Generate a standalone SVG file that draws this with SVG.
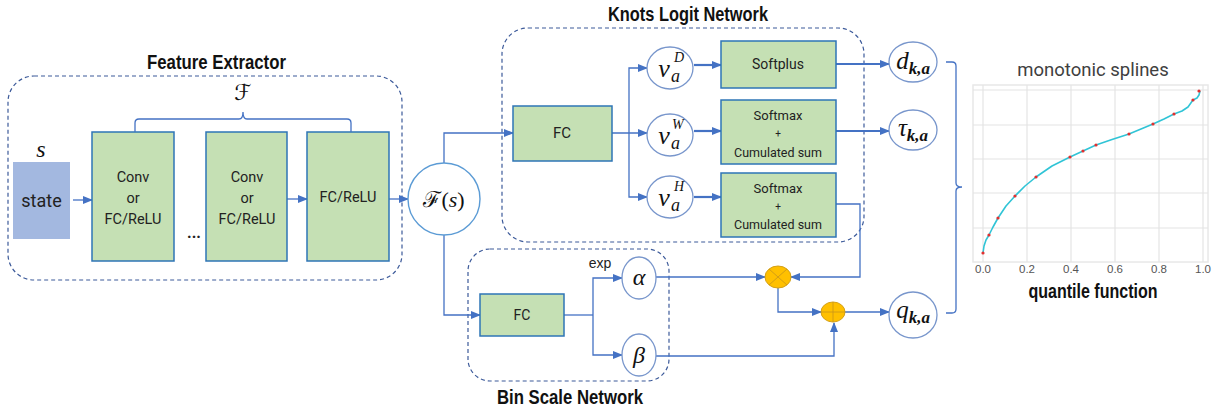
<svg xmlns="http://www.w3.org/2000/svg" width="1218" height="410" viewBox="0 0 1218 410">
<defs>
<marker id="ah" markerUnits="userSpaceOnUse" markerWidth="10" markerHeight="10" viewBox="0 0 10 10" refX="9" refY="5" orient="auto">
<path d="M0,1 L10,5 L0,9 z" fill="#4472c4"/>
</marker>
<style>
.dash{fill:none;stroke:#3c5a9a;stroke-width:1.2;stroke-dasharray:4 3}
.box{fill:#c5e0b4;stroke:#2e75b6;stroke-width:1.5}
.circ{fill:#fff;stroke:#7896cc;stroke-width:1.3}
.ln{fill:none;stroke:#4472c4;stroke-width:1.3}
.lnb{fill:none;stroke:#4472c4;stroke-width:2.2}
.title{font-family:"Liberation Sans",Arial,sans-serif;font-weight:bold;font-size:20px;fill:#111}
.lbl{font-family:Roboto,"Liberation Sans",sans-serif;fill:#222;text-anchor:middle}
.math{font-family:"Liberation Serif","DejaVu Serif",serif;font-style:italic;fill:#111}
.tick{font-family:"Liberation Sans",Arial,sans-serif;font-size:11.5px;fill:#555;text-anchor:middle}
.grid{stroke:#e4e4e4;stroke-width:1.2}
.op{fill:#ffc000;stroke:#d4a017;stroke-width:1}
.opl{stroke:#c8961a;stroke-width:0.8}
</style>
</defs>

<!-- containers -->
<g id="feature-extractor">
<rect class="dash" x="8" y="76" width="394" height="204" rx="26"/>
<text class="title" x="216.5" y="69" text-anchor="middle" textLength="139" lengthAdjust="spacingAndGlyphs">Feature Extractor</text>
</g>
<g id="knots-logit-network">
<rect class="dash" x="502" y="28" width="362" height="214" rx="26"/>
<text class="title" x="688" y="21" text-anchor="middle" textLength="160" lengthAdjust="spacingAndGlyphs">Knots Logit Network</text>
</g>
<g id="bin-scale-network">
<rect class="dash" x="468" y="249" width="201" height="132" rx="22"/>
<text class="title" x="570" y="404" text-anchor="middle" textLength="146" lengthAdjust="spacingAndGlyphs">Bin Scale Network</text>
</g>

<!-- connectors -->
<g id="connectors">
<line class="ln" x1="73" y1="200" x2="92" y2="200" marker-end="url(#ah)"/>
<line class="ln" x1="287" y1="199" x2="307" y2="199" marker-end="url(#ah)"/>
<line class="ln" x1="389" y1="199" x2="408" y2="199" marker-end="url(#ah)"/>
<path class="ln" d="M444,163 V133 H513" marker-end="url(#ah)"/>
<path class="ln" d="M444,235 V315 H480" marker-end="url(#ah)"/>
<line class="ln" x1="612" y1="133" x2="647" y2="133" marker-end="url(#ah)"/>
<path class="ln" d="M629,133 V68 H647" marker-end="url(#ah)"/>
<path class="ln" d="M629,133 V197 H647" marker-end="url(#ah)"/>
<line class="lnb" x1="694" y1="65" x2="721" y2="65" marker-end="url(#ah)"/>
<line class="lnb" x1="694" y1="131" x2="721" y2="131" marker-end="url(#ah)"/>
<line class="lnb" x1="694" y1="197" x2="721" y2="197" marker-end="url(#ah)"/>
<line class="lnb" x1="836" y1="64" x2="889" y2="64" marker-end="url(#ah)"/>
<line class="lnb" x1="836" y1="131" x2="889" y2="131" marker-end="url(#ah)"/>
<path class="ln" d="M836,204 H860 V277 H791" marker-end="url(#ah)"/>
<path class="ln" d="M564,315 H593" />
<path class="ln" d="M593,315 V278 H622" marker-end="url(#ah)"/>
<path class="ln" d="M593,315 V355 H622" marker-end="url(#ah)"/>
<line class="ln" x1="656" y1="277" x2="765" y2="277" marker-end="url(#ah)"/>
<path class="ln" d="M778,288 V312 H821" marker-end="url(#ah)"/>
<path class="ln" d="M656,356 H834 V323" marker-end="url(#ah)"/>
<line class="ln" x1="845" y1="312" x2="889" y2="312" marker-end="url(#ah)"/>
<path class="ln" d="M946,62 H952 Q956,62 956,66 V183 Q956,187 962,187 Q956,187 956,191 V309 Q956,313 952,313 H946"/>
</g>

<!-- feature extractor nodes -->
<g id="state">
<rect x="13" y="162" width="57" height="77" fill="#a3b8e0"/>
<text class="lbl" x="41.5" y="207" font-size="18">state</text>
<text class="math" x="41" y="157" font-size="24" text-anchor="middle">s</text>
</g>
<g id="layer1">
<rect class="box" x="92" y="132" width="82" height="129"/>
<text class="lbl" font-size="14.5" x="133" y="182">Conv</text>
<text class="lbl" font-size="14.5" x="133" y="203">or</text>
<text class="lbl" font-size="14.5" x="133" y="224">FC/ReLU</text>
</g>
<g id="ellipsis">
<text class="lbl" font-size="16" font-weight="bold" x="194" y="238">...</text>
</g>
<g id="layer2">
<rect class="box" x="206" y="132" width="81" height="129"/>
<text class="lbl" font-size="14.5" x="247" y="182">Conv</text>
<text class="lbl" font-size="14.5" x="247" y="203">or</text>
<text class="lbl" font-size="14.5" x="247" y="224">FC/ReLU</text>
</g>
<g id="layer3">
<rect class="box" x="307" y="132" width="82" height="129"/>
<text class="lbl" font-size="14.5" x="348" y="202">FC/ReLU</text>
</g>
<g id="F-brace">
<path class="ln" d="M135,132 V123 Q135,119 139,119 H239 Q243,119 243,112 Q243,119 247,119 H347 Q351,119 351,123 V132"/>
<text x="243" y="100" font-size="22" text-anchor="middle" font-family="'DejaVu Serif','DejaVu Sans',serif" fill="#111">ℱ</text>
</g>
<g id="Fs">
<circle cx="444" cy="199" r="36" fill="#fff" stroke="#5b9bd5" stroke-width="1.4"/>
<text x="444" y="207" font-size="22" text-anchor="middle" fill="#111" font-family="'DejaVu Serif',serif"><tspan>ℱ</tspan><tspan font-family="'Liberation Serif',serif">(</tspan><tspan font-family="'Liberation Serif',serif" font-style="italic">s</tspan><tspan font-family="'Liberation Serif',serif">)</tspan></text>
</g>

<!-- knots logit network -->
<g id="knots-fc">
<rect class="box" x="513" y="106" width="99" height="55"/>
<text class="lbl" font-size="15" x="562" y="138">FC</text>
</g>
<g id="vD">
<ellipse class="circ" cx="670" cy="68" rx="23" ry="21"/>
<text class="math" x="664" y="77" font-size="26" text-anchor="middle">v</text>
<text class="math" x="674" y="62" font-size="14">D</text>
<text class="math" x="671" y="82" font-size="18">a</text>
</g>
<g id="vW">
<ellipse class="circ" cx="670" cy="135" rx="23" ry="21"/>
<text class="math" x="664" y="144" font-size="26" text-anchor="middle">v</text>
<text class="math" x="672" y="129" font-size="14">W</text>
<text class="math" x="671" y="149" font-size="18">a</text>
</g>
<g id="vH">
<ellipse class="circ" cx="670" cy="197" rx="23" ry="21"/>
<text class="math" x="664" y="206" font-size="26" text-anchor="middle">v</text>
<text class="math" x="674" y="191" font-size="14">H</text>
<text class="math" x="671" y="211" font-size="18">a</text>
</g>
<g id="softplus">
<rect class="box" x="721" y="41" width="115" height="47"/>
<text class="lbl" font-size="14" x="778" y="69">Softplus</text>
</g>
<g id="softmax1">
<rect class="box" x="721" y="100" width="115" height="64"/>
<text class="lbl" font-size="13" x="778" y="120">Softmax</text>
<text class="lbl" font-size="10" x="778" y="137">+</text>
<text class="lbl" font-size="12.5" x="778" y="157">Cumulated sum</text>
</g>
<g id="softmax2">
<rect class="box" x="721" y="173" width="115" height="64"/>
<text class="lbl" font-size="13" x="778" y="193">Softmax</text>
<text class="lbl" font-size="10" x="778" y="210">+</text>
<text class="lbl" font-size="12.5" x="778" y="229">Cumulated sum</text>
</g>

<!-- outputs -->
<g id="d">
<ellipse class="circ" cx="913" cy="62" rx="24" ry="20"/>
<text class="math" x="913" y="69" font-size="25" text-anchor="middle">d<tspan font-size="17" font-weight="bold" dy="5">k,a</tspan></text>
</g>
<g id="tau">
<ellipse class="circ" cx="913" cy="130" rx="24" ry="20"/>
<text class="math" x="913" y="136" font-size="25" text-anchor="middle">τ<tspan font-size="17" font-weight="bold" dy="5">k,a</tspan></text>
</g>
<g id="q">
<ellipse class="circ" cx="913" cy="315" rx="24" ry="23"/>
<text class="math" x="913" y="318" font-size="25" text-anchor="middle">q<tspan font-size="17" font-weight="bold" dy="5">k,a</tspan></text>
</g>

<!-- bin scale network -->
<g id="bin-fc">
<rect class="box" x="480" y="294" width="84" height="42"/>
<text class="lbl" font-size="14" x="522" y="320">FC</text>
</g>
<g id="alpha">
<ellipse class="circ" cx="639" cy="278" rx="17" ry="21"/>
<text class="math" x="639" y="285" font-size="24" text-anchor="middle">α</text>
<text x="600" y="268" font-size="14" text-anchor="middle" font-family="'Liberation Sans',Arial,sans-serif" fill="#222">exp</text>
</g>
<g id="beta">
<ellipse class="circ" cx="639" cy="355" rx="17" ry="21"/>
<text class="math" x="639" y="363" font-size="24" text-anchor="middle">β</text>
</g>
<g id="mult">
<ellipse class="op" cx="778" cy="277" rx="13" ry="11"/>
<line class="opl" x1="769" y1="269" x2="787" y2="285"/>
<line class="opl" x1="787" y1="269" x2="769" y2="285"/>
</g>
<g id="add">
<ellipse class="op" cx="833" cy="312" rx="12" ry="10"/>
<line class="opl" x1="821" y1="312" x2="845" y2="312"/>
<line class="opl" x1="833" y1="302" x2="833" y2="322"/>
</g>

<!-- chart -->
<g id="chart">
<text x="1093" y="76" font-size="18.5" text-anchor="middle" font-family="Roboto,'Liberation Sans',sans-serif" fill="#404040">monotonic splines</text>
<rect x="973" y="85" width="235" height="177" fill="#fff" stroke="#e8e8e8" stroke-width="1.5"/>
<g class="grid">
<line x1="983" y1="85" x2="983" y2="262"/>
<line x1="1027" y1="85" x2="1027" y2="262"/>
<line x1="1071" y1="85" x2="1071" y2="262"/>
<line x1="1115" y1="85" x2="1115" y2="262"/>
<line x1="1159" y1="85" x2="1159" y2="262"/>
<line x1="1203" y1="85" x2="1203" y2="262"/>
<line x1="973" y1="90" x2="1208" y2="90"/>
<line x1="973" y1="125" x2="1208" y2="125"/>
<line x1="973" y1="159" x2="1208" y2="159"/>
<line x1="973" y1="193" x2="1208" y2="193"/>
<line x1="973" y1="228" x2="1208" y2="228"/>
</g>
<text class="tick" x="983" y="273">0.0</text>
<text class="tick" x="1027" y="273">0.2</text>
<text class="tick" x="1071" y="273">0.4</text>
<text class="tick" x="1115" y="273">0.6</text>
<text class="tick" x="1159" y="273">0.8</text>
<text class="tick" x="1203" y="273">1.0</text>
<polyline fill="none" stroke="#30c4d6" stroke-width="1.6" stroke-linejoin="round" points="983,253 984,246 986,240 989,235 993,227 998,218 1006,206 1015,196 1025,186 1036,177 1052,166 1070,157 1083,151 1096,145 1112,139.5 1129,134 1141,129 1153,124 1164,119 1174,114 1182,111 1188,107 1193,100 1197,98 1199,95 1200,91"/>
<g fill="#e03030">
<circle cx="983" cy="253" r="1.6"/><circle cx="989" cy="235" r="1.6"/><circle cx="998" cy="218" r="1.6"/>
<circle cx="1015" cy="196" r="1.6"/><circle cx="1036" cy="177" r="1.6"/><circle cx="1070" cy="157" r="1.6"/>
<circle cx="1083" cy="151" r="1.6"/><circle cx="1096" cy="145" r="1.6"/><circle cx="1129" cy="134" r="1.6"/>
<circle cx="1153" cy="124" r="1.6"/><circle cx="1174" cy="114" r="1.6"/><circle cx="1193" cy="100" r="1.6"/>
<circle cx="1199" cy="91" r="1.6"/>
</g>
<text class="title" x="1093" y="298" text-anchor="middle" textLength="129" lengthAdjust="spacingAndGlyphs">quantile function</text>
</g>
</svg>
